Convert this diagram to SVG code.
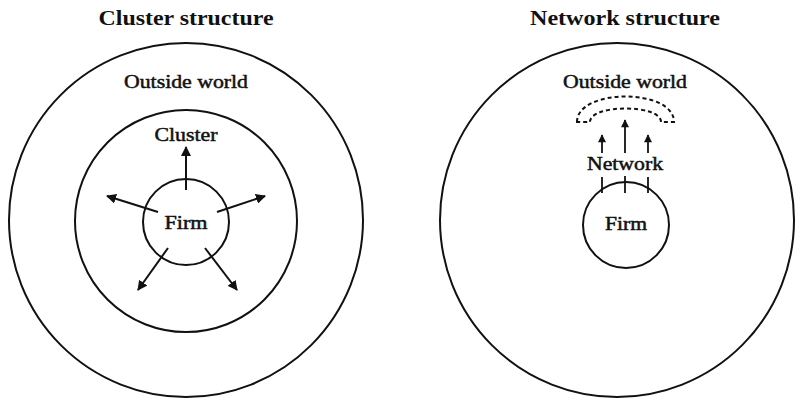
<svg xmlns="http://www.w3.org/2000/svg" width="797" height="402" viewBox="0 0 797 402">
  <defs>
    <marker id="head" viewBox="0 0 10 10" refX="9" refY="5" markerWidth="10" markerHeight="10" markerUnits="userSpaceOnUse" orient="auto">
      <path d="M0,0 L10,5 L0,10 Z" fill="#111"/>
    </marker>
    <marker id="headSmall" viewBox="0 0 10 10" refX="9" refY="5" markerWidth="9" markerHeight="8" markerUnits="userSpaceOnUse" orient="auto">
      <path d="M0,0 L10,5 L0,10 Z" fill="#111"/>
    </marker>
  </defs>
  <style>
    .ring { fill: none; stroke: #111; stroke-width: 2; }
    .arrow { fill: none; stroke: #111; stroke-width: 2; marker-end: url(#head); }
    .arrow-s { fill: none; stroke: #111; stroke-width: 1.8; marker-end: url(#headSmall); }
    .tick { stroke: #111; stroke-width: 1.8; }
    .dash { fill: none; stroke: #111; stroke-width: 2; stroke-dasharray: 4 3; }
    .title { font-family: "Liberation Serif", "Times New Roman", serif; font-weight: bold; font-size: 20px; fill: #111; text-anchor: middle; }
    .label { font-family: "Liberation Serif", "Times New Roman", serif; font-size: 19px; fill: #111; stroke: #111; stroke-width: 0.5; text-anchor: middle; }
  </style>
  <rect width="797" height="402" fill="#fff"/>

  <!-- left panel: cluster structure -->
  <g id="cluster-title"><text class="title" x="186" y="25" textLength="175" lengthAdjust="spacingAndGlyphs">Cluster structure</text></g>
  <g id="cluster-outside">
    <circle class="ring" cx="186" cy="220" r="177"/>
    <text class="label" x="186" y="88" textLength="124" lengthAdjust="spacingAndGlyphs">Outside world</text>
  </g>
  <g id="cluster-cluster">
    <circle class="ring" cx="186" cy="221" r="111"/>
    <text class="label" x="186" y="141" textLength="63" lengthAdjust="spacingAndGlyphs">Cluster</text>
  </g>
  <g id="cluster-firm">
    <circle class="ring" cx="186" cy="222" r="43"/>
    <text class="label" x="186" y="229" textLength="43" lengthAdjust="spacingAndGlyphs">Firm</text>
  </g>
  <g id="cluster-arrows">
    <line class="arrow" x1="186" y1="190" x2="186" y2="147"/>
    <line class="arrow" x1="158" y1="212" x2="107" y2="196"/>
    <line class="arrow" x1="217" y1="212" x2="265" y2="196"/>
    <line class="arrow" x1="168" y1="248" x2="138" y2="290"/>
    <line class="arrow" x1="205" y1="248" x2="237" y2="290"/>
  </g>

  <!-- right panel: network structure -->
  <g id="network-title"><text class="title" x="625" y="25" textLength="190" lengthAdjust="spacingAndGlyphs">Network structure</text></g>
  <g id="network-outside">
    <circle class="ring" cx="617" cy="220" r="177"/>
    <text class="label" x="625" y="88" textLength="124" lengthAdjust="spacingAndGlyphs">Outside world</text>
    <path class="dash" d="M577,122 C577,88 674,88 674,122 L661,122 C661,104 590,104 590,122 Z"/>
  </g>
  <g id="network-network">
    <text class="label" x="625" y="170" textLength="76" lengthAdjust="spacingAndGlyphs">Network</text>
  </g>
  <g id="network-firm">
    <circle class="ring" cx="626" cy="225" r="43"/>
    <text class="label" x="626" y="230" textLength="42" lengthAdjust="spacingAndGlyphs">Firm</text>
  </g>
  <g id="network-links">
    <line class="tick" x1="602" y1="177" x2="602" y2="193"/>
    <line class="tick" x1="625" y1="176" x2="625" y2="193"/>
    <line class="tick" x1="648" y1="177" x2="648" y2="193"/>
    <line class="arrow-s" x1="602" y1="153" x2="602" y2="135"/>
    <line class="arrow-s" x1="625" y1="153" x2="625" y2="120"/>
    <line class="arrow-s" x1="648" y1="153" x2="648" y2="135"/>
  </g>
</svg>
